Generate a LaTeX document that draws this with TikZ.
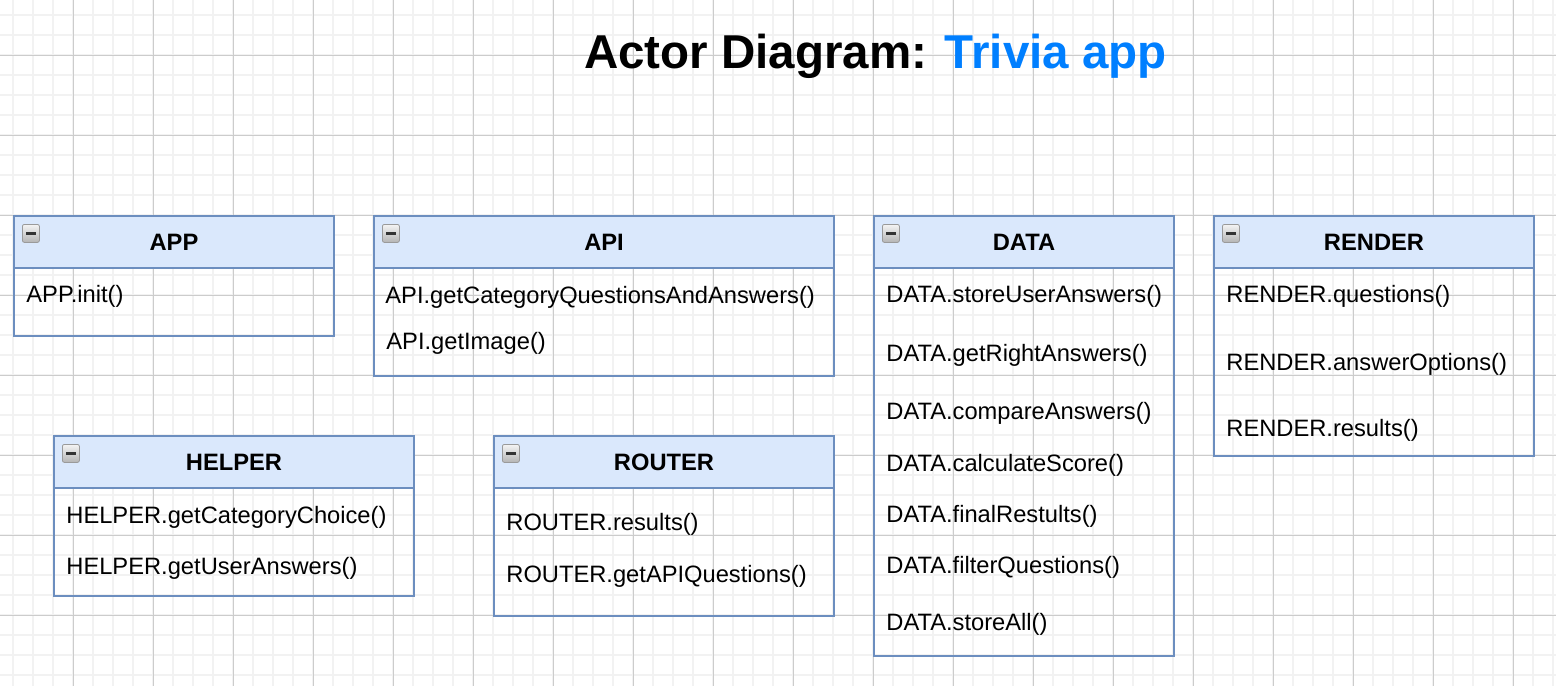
\documentclass[tikz,border=0pt]{standalone}
\usepackage{fontspec}
\setmainfont{Liberation Sans}
\definecolor{hdrfill}{HTML}{DAE8FC}
\definecolor{bordercol}{HTML}{6C8EBF}
\definecolor{minorgrid}{HTML}{F2F2F2}
\definecolor{majorgrid}{HTML}{CCCCCC}
\definecolor{titleblue}{HTML}{007FFF}
\definecolor{icontop}{HTML}{F4F4F4}
\definecolor{iconbot}{HTML}{B4B4B4}
\definecolor{iconedge}{HTML}{9A9A9A}
\tikzset{
  minorline/.style={draw=minorgrid, line width=0.75pt},
  majorline/.style={draw=majorgrid, line width=0.5pt},
  bodybox/.style={draw=bordercol, line width=1pt, anchor=north west, inner sep=0pt},
  hdrbox/.style={draw=bordercol, fill=hdrfill, line width=1pt, anchor=north west,
    inner sep=0pt, minimum height=26pt, font=\fontsize{11.85}{14}\selectfont\bfseries},
  item/.style={anchor=base west, inner sep=0pt, font=\fontsize{11.85}{14}\selectfont},
  iconbox/.style={anchor=north west, inner sep=0pt, minimum width=8.5pt, minimum height=9pt,
    rounded corners=1pt, draw=iconedge, line width=0.4pt, top color=icontop, bottom color=iconbot},
  minus/.style={draw=black!80, line width=1.4pt}
}
\begin{document}
\begin{tikzpicture}[x=0.5pt,y=-0.5pt]
\useasboundingbox (0,0) rectangle (1556,686);
\fill[white] (0,0) rectangle (1556,686);
% grid
\foreach \x in {13,33,...,1553} \draw[minorline] (\x,0) -- (\x,686);
\foreach \y in {15,35,...,675} \draw[minorline] (0,\y) -- (1556,\y);
\foreach \x in {73,153,...,1513} \draw[majorline] (\x,0) -- (\x,686);
\foreach \y in {55,135,...,615} \draw[majorline] (0,\y) -- (1556,\y);

% title
\node[anchor=base, inner sep=0pt, font=\fontsize{23.75}{28}\selectfont\bfseries] (title) at (875.5,68)
  {Actor Diagram: \textcolor{titleblue}{Trivia app}};

% APP
\node[bodybox, minimum width=160pt, minimum height=60pt] (appbox) at (13,215) {};
\node[hdrbox, minimum width=160pt] (apphdr) at (13,215) {APP};
\node[iconbox] (appicon) at (22,224) {};
\draw[minus] ([xshift=2pt]appicon.west) -- ([xshift=-2pt]appicon.east);
\node[item] (app1) at (26,302) {APP.init()};

% API
\node[bodybox, minimum width=230pt, minimum height=80pt] (apibox) at (373,215) {};
\node[hdrbox, minimum width=230pt] (apihdr) at (373,215) {API};
\node[iconbox] (apiicon) at (382,224) {};
\draw[minus] ([xshift=2pt]apiicon.west) -- ([xshift=-2pt]apiicon.east);
\node[item] (api1) at (385,303) {API.getCategoryQuestionsAndAnswers()};
\node[item] (api2) at (386,349) {API.getImage()};

% DATA
\node[bodybox, minimum width=150pt, minimum height=220pt] (databox) at (873,215) {};
\node[hdrbox, minimum width=150pt] (datahdr) at (873,215) {DATA};
\node[iconbox] (dataicon) at (882,224) {};
\draw[minus] ([xshift=2pt]dataicon.west) -- ([xshift=-2pt]dataicon.east);
\node[item] (data1) at (886,302) {DATA.storeUserAnswers()};
\node[item] (data2) at (886,361) {DATA.getRightAnswers()};
\node[item] (data3) at (886,419) {DATA.compareAnswers()};
\node[item] (data4) at (886,471) {DATA.calculateScore()};
\node[item] (data5) at (886,522) {DATA.finalRestults()};
\node[item] (data6) at (886,573) {DATA.filterQuestions()};
\node[item] (data7) at (886,630) {DATA.storeAll()};

% RENDER
\node[bodybox, minimum width=160pt, minimum height=120pt] (renderbox) at (1213,215) {};
\node[hdrbox, minimum width=160pt] (renderhdr) at (1213,215) {RENDER};
\node[iconbox] (rendericon) at (1222,224) {};
\draw[minus] ([xshift=2pt]rendericon.west) -- ([xshift=-2pt]rendericon.east);
\node[item] (render1) at (1226,302) {RENDER.questions()};
\node[item] (render2) at (1226,370) {RENDER.answerOptions()};
\node[item] (render3) at (1226,436) {RENDER.results()};

% HELPER
\node[bodybox, minimum width=180pt, minimum height=80pt] (helperbox) at (53,435) {};
\node[hdrbox, minimum width=180pt] (helperhdr) at (53,435) {HELPER};
\node[iconbox] (helpericon) at (62,444) {};
\draw[minus] ([xshift=2pt]helpericon.west) -- ([xshift=-2pt]helpericon.east);
\node[item] (helper1) at (66,523) {HELPER.getCategoryChoice()};
\node[item] (helper2) at (66,574) {HELPER.getUserAnswers()};

% ROUTER
\node[bodybox, minimum width=170pt, minimum height=90pt] (routerbox) at (493,435) {};
\node[hdrbox, minimum width=170pt] (routerhdr) at (493,435) {ROUTER};
\node[iconbox] (routericon) at (502,444) {};
\draw[minus] ([xshift=2pt]routericon.west) -- ([xshift=-2pt]routericon.east);
\node[item] (router1) at (506,530) {ROUTER.results()};
\node[item] (router2) at (506,582) {ROUTER.getAPIQuestions()};
\end{tikzpicture}
\end{document}
